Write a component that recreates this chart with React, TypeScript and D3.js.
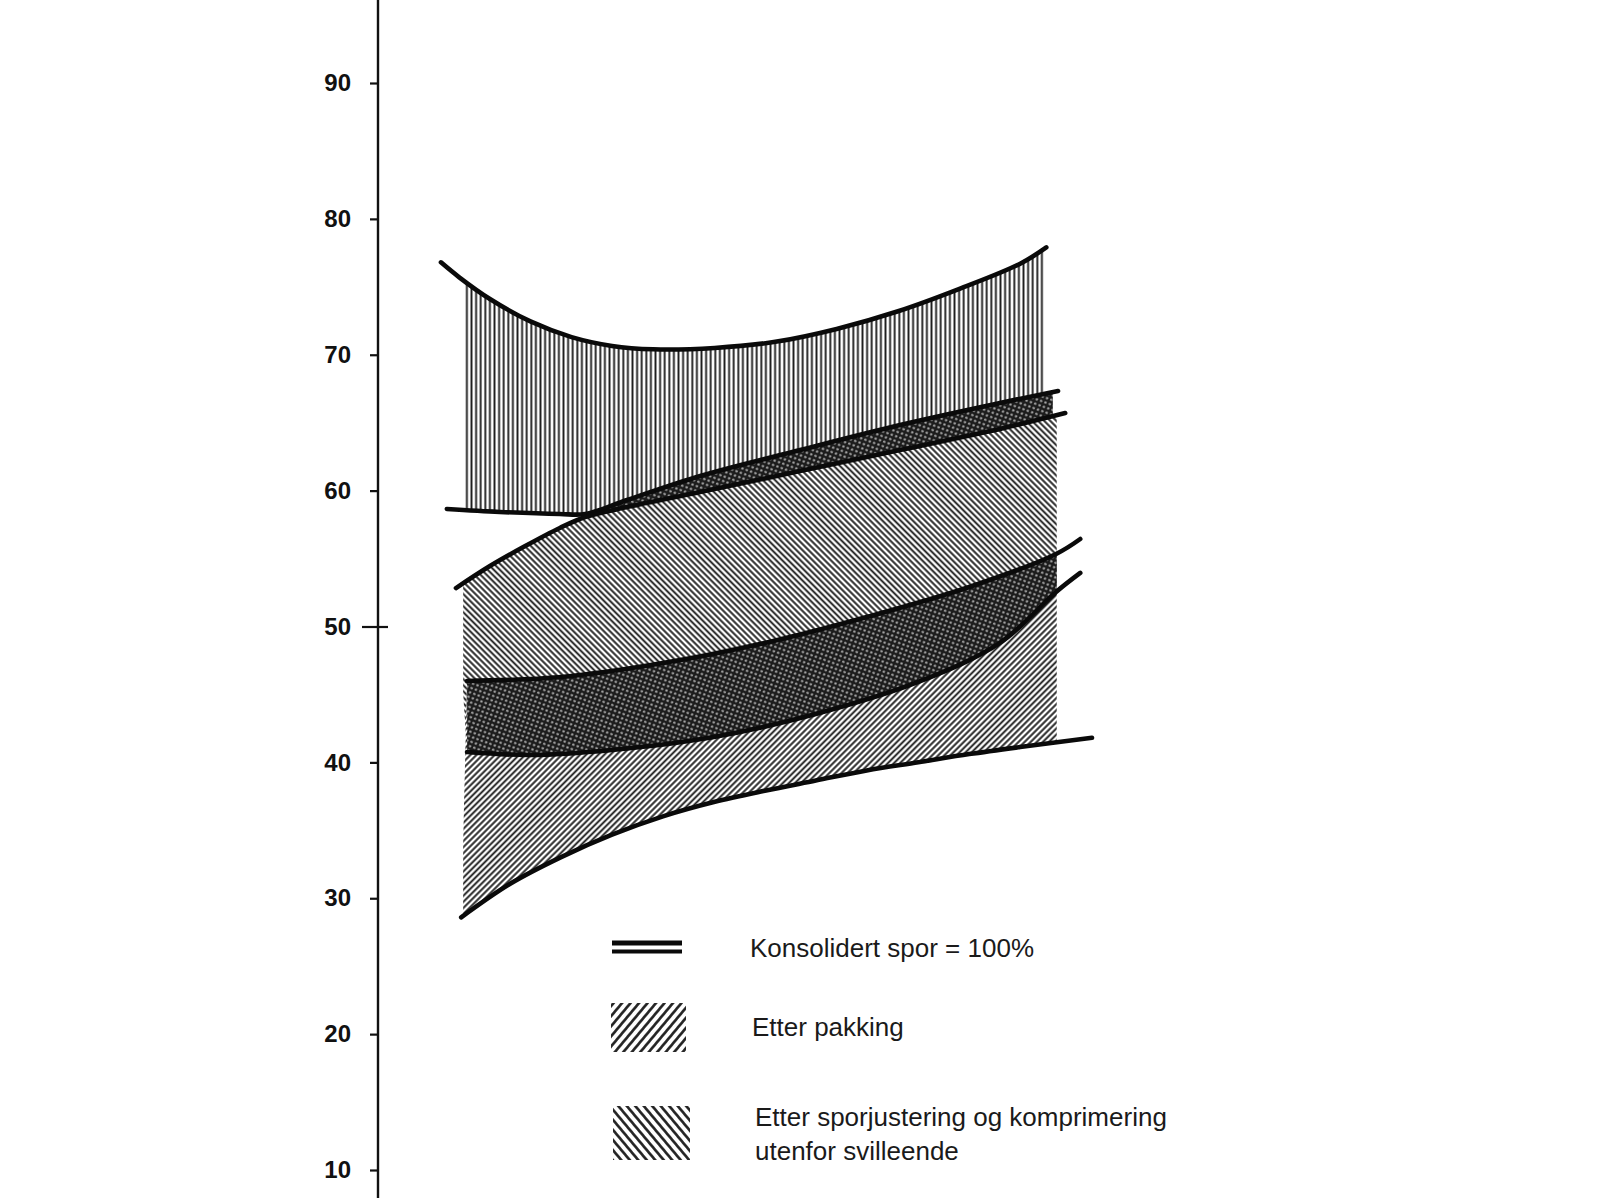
import React, { useEffect, useRef } from 'react';
import * as d3 from 'd3';

type Pt = [number, number];

const yTicks = [10, 20, 30, 40, 50, 60, 70, 80, 90];

// curves, [position along x (0-100), value]
const upperTop: Pt[] = [
  [0.3, 76.8], [3.1, 75.7], [7.8, 74.1], [14.0, 72.45], [20.3, 71.3], [26.5, 70.65],
  [32.8, 70.4], [42.2, 70.5], [51.5, 70.95], [60.9, 71.9], [70.3, 73.2], [79.7, 74.85],
  [89.0, 76.7], [93.0, 77.9],
];
const upperBottom: Pt[] = [
  [1.2, 58.65], [9.3, 58.43], [18.5, 58.28], [22.4, 58.28], [28.8, 59.31], [40.0, 61.08],
  [55.3, 62.99], [70.6, 64.83], [85.9, 66.45], [94.8, 67.33],
];
const middleTop: Pt[] = [
  [2.6, 52.83], [7.8, 54.45], [13.2, 55.92], [18.5, 57.25], [22.4, 58.06], [28.8, 58.79],
  [40.0, 59.9], [55.3, 61.44], [70.6, 62.99], [85.9, 64.54], [95.9, 65.71],
];
const lowBandTop: Pt[] = [
  [4.3, 45.99], [18.7, 46.28], [34.3, 47.31], [49.9, 48.79], [65.5, 50.7], [81.2, 52.91],
  [94.5, 55.34], [98.2, 56.44],
];
const lowBandBottom: Pt[] = [
  [4.3, 40.76], [14.1, 40.54], [26.5, 40.91], [42.1, 41.87], [57.7, 43.56], [73.4, 45.92],
  [85.9, 48.79], [94.5, 52.54], [98.2, 53.94],
];
const lowerBottom: Pt[] = [
  [3.4, 28.6], [10.9, 31.07], [18.7, 33.03], [26.5, 34.68], [34.3, 36.03], [42.1, 37.08],
  [49.9, 37.91], [57.7, 38.66], [65.5, 39.41], [73.4, 40.01], [81.2, 40.61], [89.0, 41.13],
  [100, 41.81],
];

// x extent of each shaded field
const vertSpan = [4.0, 92.8];
const diagSpan = [3.7, 94.6];
const upperBandSpan = [22.4, 94.0];
const lowerBandSpan = [4.3, 94.6];

const legendLabels = [
  ['Konsolidert spor = 100%'],
  ['Etter pakking'],
  ['Etter sporjustering og komprimering', 'utenfor svilleende'],
];

const W = 1600;
const H = 1198;

export default function App() {
  const ref = useRef<SVGSVGElement>(null);

  useEffect(() => {
    const svg = d3.select(ref.current);
    svg.selectAll('*').remove();

    const x = d3.scaleLinear().domain([0, 100]).range([439, 1092]);
    const y = d3.scaleLinear().domain([10, 90]).range([1170, 83]);

    const defs = svg.append('defs');

    const hatch = (id: string, size: number, angle: number, width: number) => {
      const p = defs.append('pattern')
        .attr('id', id)
        .attr('patternUnits', 'userSpaceOnUse')
        .attr('width', size)
        .attr('height', 10)
        .attr('patternTransform', `rotate(${angle})`);
      p.append('rect').attr('width', size).attr('height', 10).attr('fill', '#fff');
      p.append('line')
        .attr('x1', size / 2).attr('x2', size / 2)
        .attr('y1', -1).attr('y2', 11)
        .attr('stroke', '#1e1e1e')
        .attr('stroke-width', width);
    };
    hatch('vert', 4.6, 0, 1.9);
    hatch('fwd', 4.3, 45, 1.9);
    hatch('back', 4.3, -45, 1.9);
    hatch('fwdBig', 6.5, 40, 2.6);
    hatch('backBig', 6.5, -40, 2.6);

    const dots = defs.append('pattern')
      .attr('id', 'dots')
      .attr('patternUnits', 'userSpaceOnUse')
      .attr('width', 4.6)
      .attr('height', 4.6)
      .attr('patternTransform', 'rotate(20)');
    dots.append('rect').attr('width', 4.6).attr('height', 4.6).attr('fill', '#1c1c1c');
    dots.append('circle').attr('cx', 2.3).attr('cy', 2.3).attr('r', 1.25).attr('fill', '#a8a8a8');

    const line = d3.line<Pt>()
      .x(d => x(d[0]))
      .y(d => y(d[1]))
      .curve(d3.curveCatmullRom.alpha(0.5));

    const band = (top: Pt[], bottom: Pt[]) =>
      line(top) + (line([...bottom].reverse()) as string).replace('M', 'L') + 'Z';

    const fields = [
      { id: 'cv', top: upperTop, bottom: upperBottom, span: vertSpan, fill: 'url(#vert)' },
      { id: 'cb', top: middleTop, bottom: lowBandBottom, span: diagSpan, fill: 'url(#back)' },
      { id: 'cf', top: lowBandTop, bottom: lowerBottom, span: diagSpan, fill: 'url(#fwd)' },
      { id: 'cu', top: upperBottom, bottom: middleTop, span: upperBandSpan, fill: 'url(#dots)' },
      { id: 'cl', top: lowBandTop, bottom: lowBandBottom, span: lowerBandSpan, fill: 'url(#dots)' },
    ];

    fields.forEach(f => {
      defs.append('clipPath').attr('id', f.id)
        .append('rect')
        .attr('x', x(f.span[0]))
        .attr('width', x(f.span[1]) - x(f.span[0]))
        .attr('y', 0)
        .attr('height', H);
      svg.append('path')
        .attr('d', band(f.top, f.bottom))
        .attr('fill', f.fill)
        .attr('clip-path', `url(#${f.id})`);
    });

    [upperTop, upperBottom, middleTop, lowBandTop, lowBandBottom, lowerBottom].forEach(c => {
      svg.append('path')
        .attr('d', line(c))
        .attr('fill', 'none')
        .attr('stroke', '#0a0a0a')
        .attr('stroke-width', 4.6)
        .attr('stroke-linecap', 'round');
    });

    // y axis
    svg.append('line')
      .attr('x1', 378).attr('x2', 378)
      .attr('y1', 0).attr('y2', H)
      .attr('stroke', '#111')
      .attr('stroke-width', 2.4);

    const axis = svg.append('g')
      .attr('transform', 'translate(378,0)')
      .call(d3.axisLeft(y).tickValues(yTicks).tickSize(8).tickPadding(19).tickFormat(d3.format('d')));
    axis.select('.domain').remove();
    axis.selectAll('.tick line').attr('stroke', '#111').attr('stroke-width', 2.2);
    axis.selectAll<SVGGElement, number>('.tick').filter(d => d === 50)
      .select('line').attr('x2', -16).attr('x1', 10);
    axis.selectAll('.tick text')
      .attr('font-family', 'Liberation Sans, Arial, sans-serif')
      .attr('font-weight', 'bold')
      .attr('font-size', 24)
      .attr('fill', '#111');

    // legend
    const lg = svg.append('g').attr('font-family', 'Liberation Sans, Arial, sans-serif')
      .attr('font-size', 26).attr('fill', '#1a1a1a');

    lg.append('line').attr('x1', 612).attr('x2', 682).attr('y1', 943).attr('y2', 943)
      .attr('stroke', '#0a0a0a').attr('stroke-width', 5);
    lg.append('line').attr('x1', 612).attr('x2', 682).attr('y1', 951.5).attr('y2', 951.5)
      .attr('stroke', '#0a0a0a').attr('stroke-width', 4);
    lg.append('rect').attr('x', 611).attr('y', 1003).attr('width', 75).attr('height', 49)
      .attr('fill', 'url(#fwdBig)');
    lg.append('rect').attr('x', 613).attr('y', 1106).attr('width', 77).attr('height', 54)
      .attr('fill', 'url(#backBig)');

    const rows = [957, 1036, 1126];
    const textX = [750, 752, 755];
    legendLabels.forEach((lines, i) => {
      const t = lg.append('text').attr('x', textX[i]).attr('y', rows[i]);
      lines.forEach((s, j) => {
        t.append('tspan').attr('x', textX[i]).attr('dy', j === 0 ? 0 : 34).text(s);
      });
    });
  }, []);

  return (
    <svg
      ref={ref}
      width={W}
      height={H}
      style={{ position: 'absolute', left: 0, top: 0, background: '#fff' }}
    />
  );
}
